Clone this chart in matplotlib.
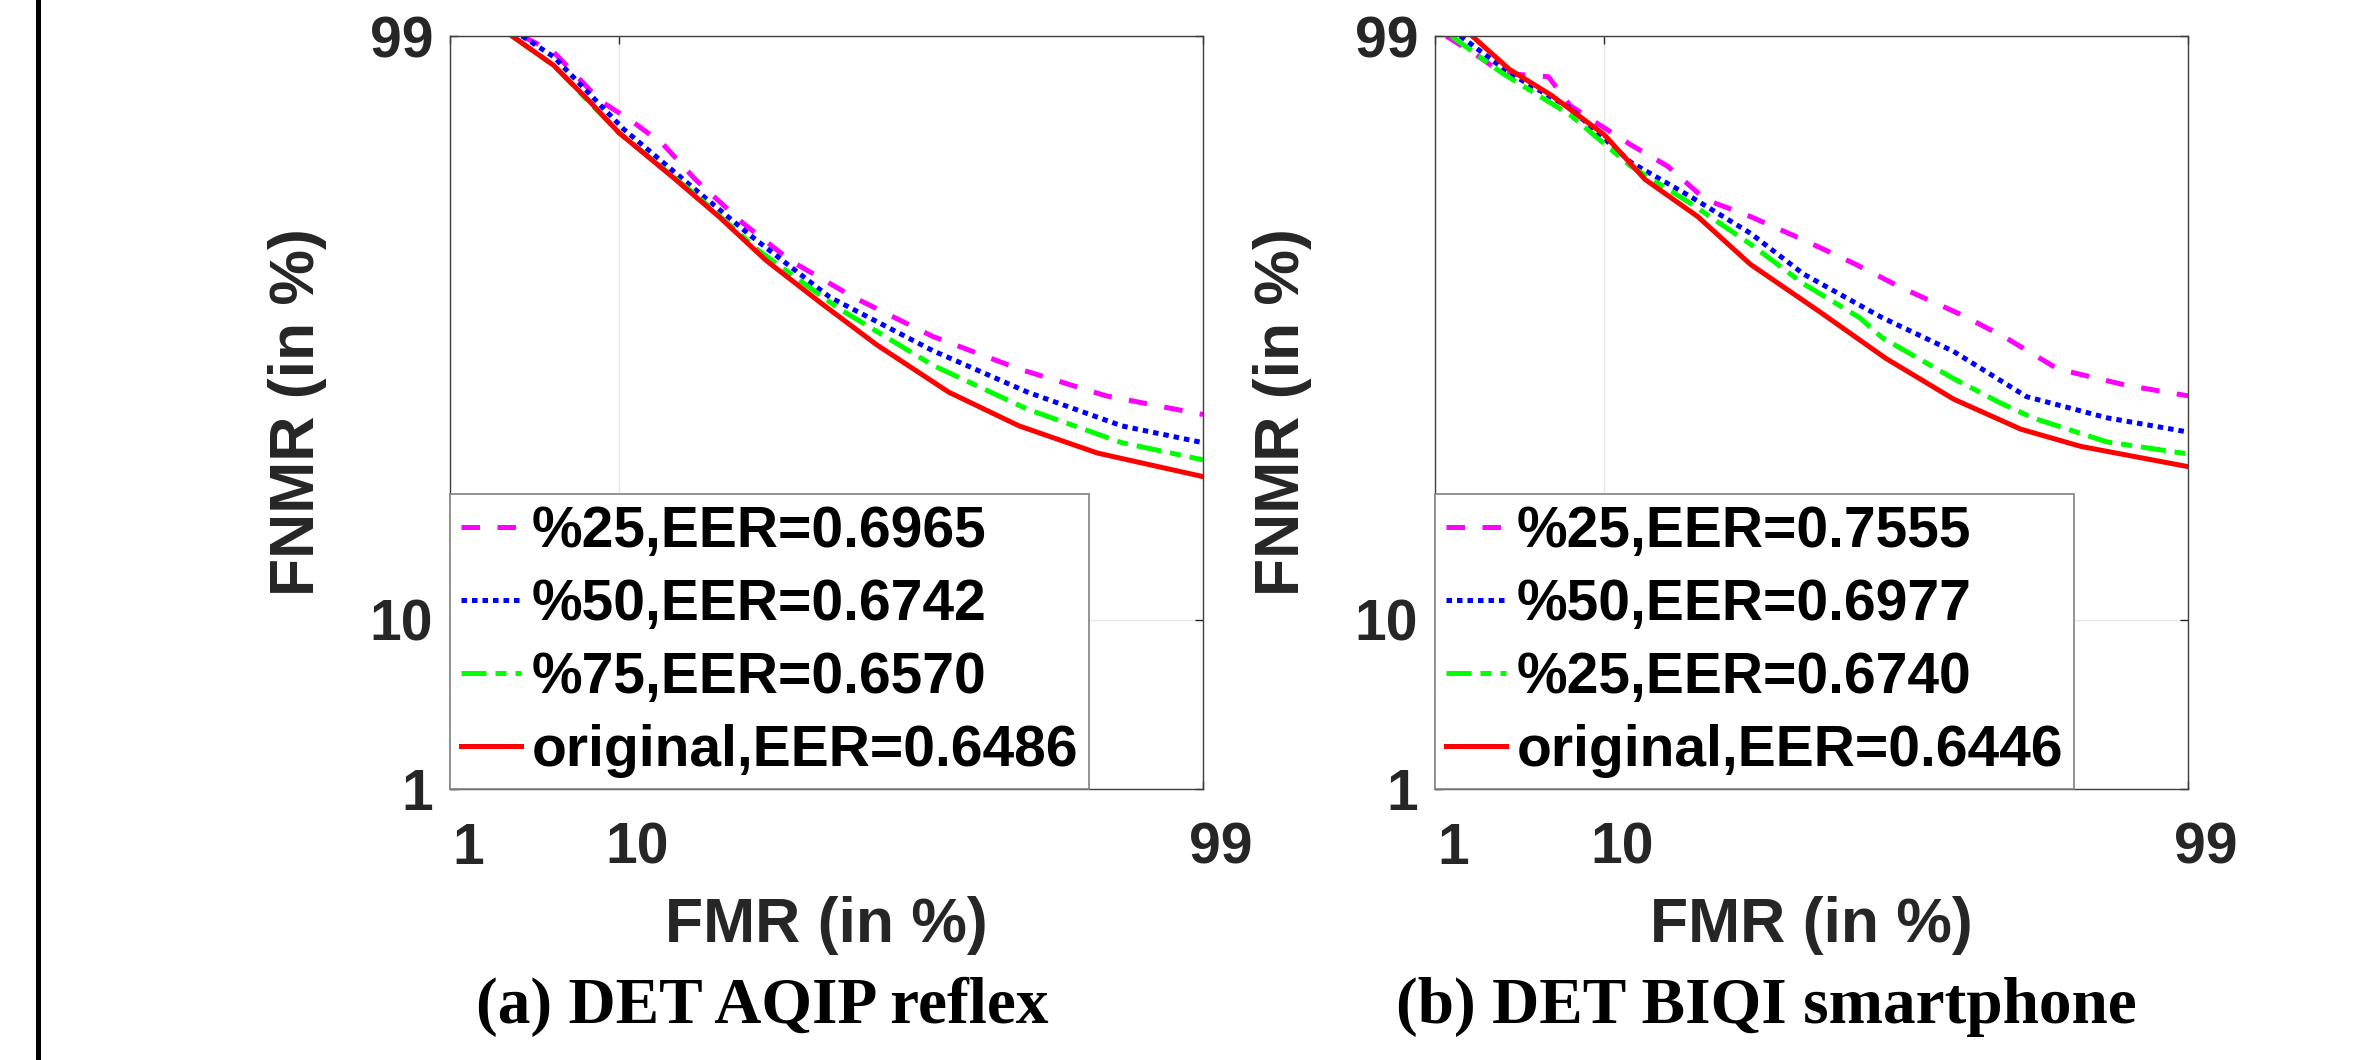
from statistics import NormalDist

import numpy as np
import matplotlib
matplotlib.use('Agg')
from matplotlib import pyplot as plt
from matplotlib.patches import Rectangle
from matplotlib.transforms import ScaledTranslation

plt.rcParams['font.family'] = ['Liberation Sans', 'DejaVu Sans']
plt.rcParams['font.weight'] = 'bold'

# (a) DET AQIP reflex -- FMR / FNMR in %
fmr_a_25 = [3.0, 4.6, 8.1, 11.5, 15.7, 20.9, 30.3, 41.2, 56.6, 74.4, 88.3, 95.8, 99]
fnmr_a_25 = [99, 98.7, 97.3, 96.4, 95.1, 92.5, 87.9, 82.6, 76.2, 68.1, 60.6, 54.1, 49.5]
fmr_a_50 = [3.0, 4.6, 10.5, 19.5, 31.9, 50.8, 74.4, 89.3, 96.6, 99]
fnmr_a_50 = [99, 98.6, 96.0, 92.2, 86.3, 76.2, 64.9, 55.0, 46.7, 42.6]
fmr_a_75 = [2.6, 4.6, 10.0, 20.9, 33.8, 52.8, 74.4, 89.3, 96.6, 99]
fnmr_a_75 = [99, 98.4, 95.8, 91.1, 84.1, 74.1, 61.5, 50.8, 42.6, 38.5]
fmr_a_orig = [2.6, 4.6, 7.1, 10.0, 16.9, 25.3, 35.5, 48.9, 62.2, 77.5, 88.3, 95.3, 99]
fnmr_a_orig = [99, 98.4, 97.3, 95.8, 92.8, 88.7, 82.6, 74.9, 66.2, 55.0, 46.7, 40.1, 34.6]
labels_a = ['%25,EER=0.6965', '%50,EER=0.6742', '%75,EER=0.6570', 'original,EER=0.6486']

# (b) DET BIQI smartphone
fmr_b_25 = [1.2, 2.0, 2.8, 5.2, 6.8, 9.6, 13.2, 18.7, 25.6, 35.3, 48.0, 60.8, 71.0, 82.3, 88.5, 93.6, 97.4, 99]
fnmr_b_25 = [99, 98.6, 98.2, 98.1, 97.1, 96.2, 95.1, 93.6, 90.6, 88.7, 85.7, 82.0, 78.0, 72.7, 67.8, 60.6, 56.7, 54.1]
fmr_b_50 = [1.5, 3.1, 6.8, 13.2, 22.7, 35.3, 48.0, 66.9, 81.0, 87.8, 90.8, 96.6, 99]
fnmr_b_50 = [99, 98.2, 97.0, 93.9, 90.9, 86.6, 80.4, 72.1, 64.7, 57.9, 53.9, 48.7, 45.2]
fmr_b_75 = [1.3, 2.8, 6.8, 13.2, 22.7, 35.3, 48.0, 61.7, 66.9, 81.0, 87.8, 91.4, 96.6, 99]
fnmr_b_75 = [99, 98.2, 96.7, 93.6, 90.2, 85.1, 78.7, 72.1, 67.8, 58.3, 52.4, 48.7, 42.8, 39.9]
fmr_b_orig = [1.8, 3.1, 5.4, 10.0, 15.2, 24.1, 35.3, 51.7, 67.7, 81.0, 90.2, 95.2, 99]
fnmr_b_orig = [99, 98.3, 97.5, 95.7, 92.5, 88.7, 82.0, 73.5, 63.1, 53.3, 45.9, 41.7, 36.9]
labels_b = ['%25,EER=0.7555', '%50,EER=0.6977', '%25,EER=0.6740', 'original,EER=0.6446']

ticks = [1, 10, 99]
tick_labels = ['1', '10', '99']

# normal deviate scale (DET plot)
_nd = NormalDist()
_probit = np.vectorize(lambda p: _nd.inv_cdf(min(max(p / 100.0, 1e-9), 1 - 1e-9)), otypes=[float])
_cdf = np.vectorize(lambda z: 100.0 * _nd.cdf(z), otypes=[float])

styles = [
    dict(color=(1, 0, 1), dashes=(3.7, 3.5)),
    dict(color=(0, 0, 1), dashes=(1.1, 1.0)),
    dict(color=(0, 1, 0), dashes=(5, 1.8, 2.2, 1.8)),
    dict(color=(1, 0, 0), linestyle='-'),
]

dark = '#262626'
W, H = 2358, 1060
fig = plt.figure(figsize=(W / 100, H / 100), dpi=100)

panels = [
    (450, [(fmr_a_25, fnmr_a_25), (fmr_a_50, fnmr_a_50), (fmr_a_75, fnmr_a_75), (fmr_a_orig, fnmr_a_orig)],
     labels_a, '(a) DET AQIP reflex', 762),
    (1435, [(fmr_b_25, fnmr_b_25), (fmr_b_50, fnmr_b_50), (fmr_b_75, fnmr_b_75), (fmr_b_orig, fnmr_b_orig)],
     labels_b, '(b) DET BIQI smartphone', 1766),
]

for left_px, series, labels, title, title_x in panels:
    ax = fig.add_axes([left_px / W, (H - 789) / H, 753 / W, 753 / H])
    for (x, y), st, lab in zip(series, styles, labels):
        ax.plot(x, y, lw=3.6, label=lab, **st)

    ax.set_xscale('function', functions=(_probit, _cdf))
    ax.set_yscale('function', functions=(_probit, _cdf))
    ax.set_xlim(1, 99)
    ax.set_ylim(1, 99)
    ax.set_xticks(ticks)
    ax.set_xticklabels(tick_labels)
    ax.set_yticks(ticks)
    ax.set_yticklabels(tick_labels)
    ax.minorticks_off()
    ax.grid(True, color='#e6e6e6', lw=1.0)

    ax.tick_params(direction='in', length=6, width=1, top=True, right=True,
                   color=dark, labelcolor=dark, labelsize=41)
    ax.tick_params(axis='x', pad=23.5)
    ax.tick_params(axis='y', pad=12)
    shift = ScaledTranslation(0.18, 0, fig.dpi_scale_trans)
    for t in ax.get_xticklabels():
        t.set_transform(t.get_transform() + shift)
    for sp in ax.spines.values():
        sp.set_color('#404040')
        sp.set_linewidth(1.0)

    ax.set_xlabel('FMR (in %)', fontsize=45, fontweight='bold', color=dark)
    ax.xaxis.label.set_va('baseline')
    ax.xaxis.set_label_coords(0.5, -(942 - 789) / 753)
    ax.set_ylabel('FNMR (in %)', fontsize=45, fontweight='bold', color=dark)
    ax.yaxis.label.set_va('baseline')
    ax.yaxis.set_label_coords(-136 / 753, 0.5)

    leg = ax.legend(loc='lower left', bbox_to_anchor=(0, 0), borderaxespad=0,
                    fancybox=False, framealpha=1, edgecolor='#808080',
                    prop=dict(family='Liberation Sans', weight='bold', size=41),
                    labelcolor='black', handlelength=1.05, handletextpad=0.18,
                    borderpad=0.2, labelspacing=0.33)
    leg.get_frame().set_linewidth(1.2)

    fig.text(title_x / W, (H - 1023) / H, title, ha='center', va='baseline',
             family='Liberation Serif', weight='bold', size=47, color='black')

# page border line at the left
fig.add_artist(Rectangle((36 / W, 0), 5 / W, 1, transform=fig.transFigure,
                         color='black', lw=0))

fig.savefig('out.png', dpi=100, facecolor='white')
